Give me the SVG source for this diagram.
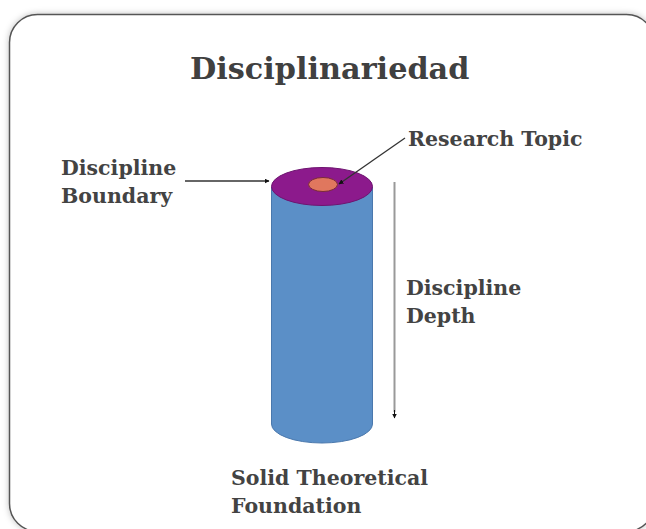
<svg xmlns="http://www.w3.org/2000/svg" width="646" height="529" viewBox="0 0 646 529">
  <style>
    .lbl { font-family: "DejaVu Serif", "Liberation Serif", serif; font-weight: bold; font-size: 20.5px; fill: #434343; }
    .title { font-family: "DejaVu Serif", "Liberation Serif", serif; font-weight: bold; font-size: 30.3px; fill: #404040; }
    .conn { stroke: #333; stroke-width: 1.3; fill: none; }
  </style>
  <defs>
    <filter id="sh" x="-5%" y="-5%" width="110%" height="110%">
      <feDropShadow dx="0" dy="0" stdDeviation="3" flood-color="#000" flood-opacity="0.25"/>
    </filter>
    <marker id="ah" viewBox="0 0 10 10" refX="9" refY="5" markerWidth="5" markerHeight="5" orient="auto" markerUnits="userSpaceOnUse">
      <path d="M0,0 L10,5 L0,10 z" fill="#111"/>
    </marker>
  </defs>
  <rect width="646" height="529" fill="#ffffff"/>
  <g id="frame">
    <rect x="9.5" y="14.5" width="645" height="517" rx="28" ry="28" fill="#ffffff" stroke="#555" stroke-width="1.5" filter="url(#sh)"/>
  </g>
  <g id="title">
    <text class="title" x="190" y="79">Disciplinariedad</text>
  </g>
  <g id="cylinder">
    <path d="M271.5,187 L271.5,424 A50.5,19 0 0 0 372.5,424 L372.5,187 Z" fill="#5b8fc7" stroke="#4a78ad" stroke-width="1"/>
    <ellipse cx="322" cy="186.5" rx="50.5" ry="19" fill="#8c1a8c" stroke="#6e1470" stroke-width="1"/>
  </g>
  <g id="research-topic-dot">
    <ellipse cx="323" cy="184.5" rx="14.5" ry="7" fill="#e0775e" stroke="#7a2a3a" stroke-width="1"/>
  </g>
  <g id="connectors">
    <line class="conn" x1="185" y1="181" x2="269" y2="181" marker-end="url(#ah)"/>
    <line class="conn" x1="405" y1="138" x2="339" y2="184" marker-end="url(#ah)"/>
    <line x1="394.5" y1="182" x2="394.5" y2="412" stroke="#999" stroke-width="2"/>
    <line x1="394.5" y1="410" x2="394.5" y2="418" stroke="#111" stroke-width="1" marker-end="url(#ah)"/>
  </g>
  <g id="label-boundary">
    <text class="lbl" x="61" y="175">Discipline</text>
    <text class="lbl" x="61" y="203">Boundary</text>
  </g>
  <g id="label-topic">
    <text class="lbl" x="408" y="146">Research Topic</text>
  </g>
  <g id="label-depth">
    <text class="lbl" x="406" y="295">Discipline</text>
    <text class="lbl" x="406" y="323">Depth</text>
  </g>
  <g id="label-foundation">
    <text class="lbl" x="231" y="485">Solid Theoretical</text>
    <text class="lbl" x="231" y="513">Foundation</text>
  </g>
</svg>
